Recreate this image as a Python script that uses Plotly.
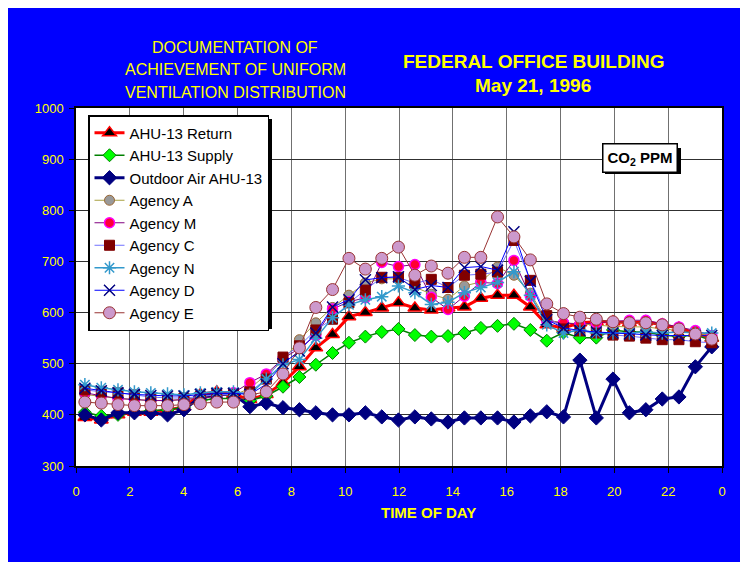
import plotly.graph_objects as go

# ---------------- data ----------------
times = [0.33, 0.94, 1.56, 2.17, 2.78, 3.40, 4.01, 4.62, 5.23, 5.85, 6.46, 7.07, 7.69,
         8.30, 8.91, 9.53, 10.14, 10.75, 11.36, 11.98, 12.59, 13.20, 13.82, 14.43,
         15.04, 15.66, 16.27, 16.88, 17.49, 18.11, 18.72, 19.33, 19.95, 20.56, 21.17,
         21.78, 22.40, 23.01, 23.62]

ahu_return = [395, 390, 400, 405, 405, 410, 415, 440, 445, 440, 430, 440, 463, 494, 531, 557,
              592, 600, 609, 619, 609, 605, 609, 611, 628, 634, 634, 611, 576, 570, 580, 582,
              582, 580, 582, 576, 570, 560, 550]
ahu_supply = [405, 398, 400, 405, 408, 410, 415, 428, 432, 432, 428, 437, 455, 474, 498, 521,
              541, 553, 562, 568, 556, 553, 554, 560, 570, 574, 578, 566, 545, 561, 551, 551,
              566, 562, 562, 556, 553, 556, 546]
outdoor_air = [400, 390, 404, 404, 404, 400, 410, 435, 440, 440, 416, 423, 414, 410, 404, 400,
               400, 404, 396, 390, 396, 392, 386, 394, 394, 394, 386, 398, 406, 396, 507, 394,
               470, 404, 410, 431, 435, 494, 533]
agency_a = [440, 436, 432, 430, 428, 428, 430, 435, 440, 438, 452, 478, 505, 547, 580, 610,
            634, 658, 666, 666, 650, 636, 626, 652, 660, 689, 673, 638, 585, 580, 578, 575,
            573, 572, 572, 568, 565, 560, 555]
agency_m = [443, 438, 432, 430, 428, 428, 430, 432, 436, 443, 463, 480, 510, 530, 555, 607,
            621, 629, 698, 690, 694, 630, 606, 632, 659, 657, 702, 632, 583, 580, 577, 580,
            582, 585, 585, 578, 572, 565, 555]
agency_c = [449, 445, 443, 439, 435, 433, 433, 436, 440, 440, 445, 470, 513, 535, 566, 587,
            619, 644, 669, 669, 657, 665, 649, 673, 675, 679, 741, 663, 594, 568, 564, 560,
            556, 554, 550, 547, 547, 543, 541]
agency_n = [459, 453, 449, 445, 443, 441, 439, 443, 445, 445, 440, 470, 498, 508, 550, 590,
            615, 625, 631, 652, 639, 616, 620, 639, 649, 659, 680, 634, 576, 560, 566, 560,
            560, 560, 562, 560, 562, 560, 560]
agency_d = [452, 447, 443, 440, 438, 437, 437, 440, 442, 442, 440, 460, 500, 525, 560, 611,
            625, 664, 668, 670, 645, 653, 649, 688, 690, 683, 758, 661, 586, 570, 565, 562,
            560, 558, 556, 555, 555, 555, 555]
agency_e = [425, 423, 420, 418, 418, 418, 420, 422, 425, 425, 439, 445, 480, 531, 610, 645,
            706, 685, 706, 728, 673, 691, 677, 708, 708, 787, 748, 703, 617, 598, 591, 587,
            582, 580, 580, 576, 568, 558, 548]

x_tickvals = [0, 2, 4, 6, 8, 10, 12, 14, 16, 18, 20, 22, 24]
x_ticktext = ["0", "2", "4", "6", "8", "10", "12", "14", "16", "18", "20", "22", "0"]
y_tickvals = [300, 400, 500, 600, 700, 800, 900, 1000]

# ---------------- figure ----------------
OFF = 8  # page body margin
W, H = 736, 554
L, R, T, B = 68, 22, 100, 96
PW, PH = W - L - R, H - T - B


def px(xs):
    """screen x -> paper x"""
    return (xs - OFF - L) / PW


def py(ys):
    """screen y -> paper y"""
    return (H - B - (ys - OFF)) / PH


FONT = "Liberation Sans, Arial, sans-serif"
YEL = "#FFFF00"

series = [
    ("AHU-13 Return", ahu_return, dict(color="#FF0000", width=3),
     dict(symbol="triangle-up", size=12, color="#000000", line=dict(color="#FF0000", width=1.5))),
    ("AHU-13 Supply", ahu_supply, dict(color="#008000", width=1.5),
     dict(symbol="diamond", size=10, color="#00FF00", line=dict(color="#008000", width=1))),
    ("Outdoor Air AHU-13", outdoor_air, dict(color="#000080", width=3),
     dict(symbol="diamond", size=11, color="#000080", line=dict(color="#000080", width=1))),
    ("Agency A", agency_a, dict(color="#A8A040", width=1),
     dict(symbol="circle", size=10, color="#999999", line=dict(color="#996633", width=1))),
    ("Agency M", agency_m, dict(color="#800080", width=1),
     dict(symbol="circle", size=10, color="#FF0033", line=dict(color="#FF00FF", width=1.5))),
    ("Agency C", agency_c, dict(color="#7070FF", width=1),
     dict(symbol="square", size=10, color="#800000", line=dict(color="#800000", width=1))),
    ("Agency N", agency_n, dict(color="#3399CC", width=1.5),
     dict(symbol="asterisk-open", size=11, color="#3399CC", line=dict(color="#3399CC", width=1.5))),
    ("Agency D", agency_d, dict(color="#0000FF", width=1),
     dict(symbol="x-thin-open", size=11, color="#000080", line=dict(color="#000080", width=1.5))),
    ("Agency E", agency_e, dict(color="#993333", width=1),
     dict(symbol="circle", size=12, color="#CC99CC", line=dict(color="#993333", width=1))),
]

fig = go.Figure()
for name, vals, line, marker in series:
    fig.add_trace(go.Scatter(x=times, y=vals, mode="lines+markers", name=name,
                             line=line, marker=marker))

axis_common = dict(showgrid=True, gridwidth=1,
                   showline=True, linecolor="#000000", linewidth=1.5, mirror=True,
                   ticks="outside", ticklen=5, tickcolor="#000000",
                   tickfont=dict(family=FONT, size=13, color=YEL), zeroline=False)

fig.update_xaxes(range=[0, 24], tickvals=x_tickvals, ticktext=x_ticktext,
                 ticklabelstandoff=8, gridcolor="#707070", **axis_common)
fig.update_yaxes(range=[300, 1000], tickvals=y_tickvals, ticklabelstandoff=3,
                 gridcolor="#303030", **axis_common)

annotations = [
    dict(x=px(235), y=py(47), text="DOCUMENTATION OF", font=dict(size=16)),
    dict(x=px(235), y=py(70), text="ACHIEVEMENT OF UNIFORM", font=dict(size=16)),
    dict(x=px(235), y=py(92), text="VENTILATION DISTRIBUTION", font=dict(size=16)),
    dict(x=px(533), y=py(62), text="<b>FEDERAL OFFICE BUILDING</b>", font=dict(size=19)),
    dict(x=px(533), y=py(86), text="<b>May 21, 1996</b>", font=dict(size=19)),
    dict(x=px(428), y=py(512), text="<b>TIME OF DAY</b>", font=dict(size=15)),
]
for a in annotations:
    a.update(xref="paper", yref="paper", showarrow=False, xanchor="center", yanchor="middle")
    a["font"].update(family=FONT, color=YEL)

annotations.append(dict(x=px(640), y=py(158), xref="paper", yref="paper", showarrow=False,
                        xanchor="center", yanchor="middle",
                        text="<b>CO<sub>2</sub> PPM</b>",
                        font=dict(family=FONT, size=15, color="#000000"),
                        bgcolor="#FFFFFF", bordercolor="#000000", borderwidth=1.5,
                        borderpad=4))

shapes = [
    # CO2 box shadow
    dict(type="rect", xref="paper", yref="paper", x0=px(605), x1=px(681), y0=py(174), y1=py(148),
         fillcolor="#000000", line=dict(width=0), layer="above"),
    # legend shadow
    dict(type="rect", xref="paper", yref="paper", x0=px(92), x1=px(272), y0=py(329), y1=py(119),
         fillcolor="#000000", line=dict(width=0), layer="above"),
]

fig.update_layout(
    width=W, height=H, margin=dict(l=L, r=R, t=T, b=B, pad=0),
    paper_bgcolor="#0000FF", plot_bgcolor="#FFFFFF",
    font=dict(family=FONT, color="#000000"),
    showlegend=True,
    legend=dict(x=px(88), y=py(115), xanchor="left", yanchor="top",
                bgcolor="#FFFFFF", bordercolor="#000000", borderwidth=1.5,
                font=dict(family=FONT, size=15, color="#000000"),
                tracegroupgap=0, itemwidth=30),
    annotations=annotations, shapes=shapes,
)

fig.write_html("out.html")
